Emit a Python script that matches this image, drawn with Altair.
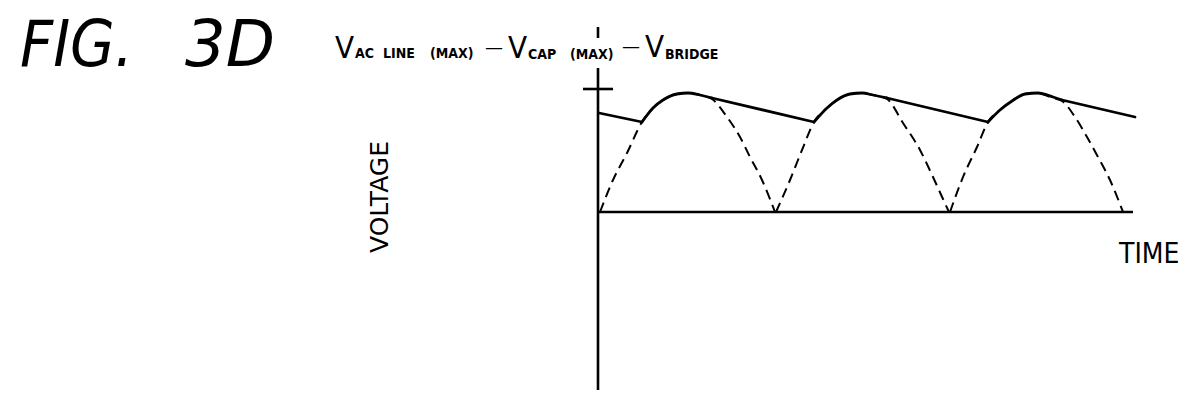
import altair as alt
import pandas as pd

# ---- coordinate system: t = time units (0 at voltage axis), v = voltage units (0 at time axis)
X_DOMAIN = [-590, 583]
Y_DOMAIN = [-178, 204]

# dashed rectified AC waveform (three half cycles)
arch_id = [1] * 15 + [2] * 15 + [3] * 15
arch_t = [2, 15, 29, 44, 55, 65, 79, 90, 102, 114, 129, 142, 152, 164, 177,
          178, 192, 204, 216, 229, 239, 252, 264, 275, 289, 305, 322, 335, 345, 351,
          352, 365, 379, 390, 402, 414, 427, 440, 455, 464, 477, 489, 500, 512, 525]
arch_v = [0, 32, 59, 90, 104, 112, 118, 119, 117, 113, 95, 75, 55, 32, 0,
          0, 32, 62, 90, 104, 112, 118, 119, 117, 113, 89, 62, 35, 13, 0,
          0, 35, 65, 90, 102, 111, 118, 119, 114, 111, 95, 75, 55, 32, 0]

# solid capacitor voltage (charge along the arch, then linear discharge)
cap_seg = [0, 0,
           1, 1, 1, 1, 1, 1, 1,
           2, 2,
           3, 3, 3, 3, 3, 3, 3,
           4, 4,
           5, 5, 5, 5, 5, 5, 5,
           6, 6]
cap_t = [1, 44,
         44, 55, 65, 79, 90, 102, 114,
         114, 216,
         216, 229, 239, 252, 264, 275, 289,
         289, 390,
         390, 402, 414, 427, 440, 455, 464,
         464, 537]
cap_v = [99, 90,
         90, 104, 112, 118, 119, 117, 114,
         114, 90,
         90, 104, 112, 118, 119, 117, 114,
         114, 90,
         90, 102, 111, 118, 119, 115, 112,
         112, 95]

# axis segments
axis_id = ["vtop", "vtop", "vmain", "vmain", "tick", "tick", "base", "base"]
axis_t = [0, 0, 0, 0, -15, 15, -1, 535]
axis_v = [185, 174, 144, -178, 123, 123, 0, 0]

# texts
fig_text = ["FIG."]
fig_t = [-578]
fig_v = [146]

num_text = ["3D"]
num_t = [-413]
num_v = [146]

big_v_text = ["V", "V", "V"]
big_v_t = [-263, -90, 47]
big_v_v = [154, 154, 155]

sub_text = ["AC", "CAP", "BRIDGE"]
sub_t = [-243, -70, 67]
sub_v = [154, 153, 153]

small_text = ["LINE", "(MAX)", "(MAX)"]
small_t = [-215, -168, -28]
small_v = [154, 154, 153]

dash_text = ["\u2014", "\u2014"]
dash_t = [-113, 24]
dash_v = [159, 160]

time_text = ["TIME"]
time_t = [521]
time_v = [-51]

volt_text = ["VOLTAGE"]
volt_t = [-210]
volt_v = [15]

xs = alt.Scale(domain=X_DOMAIN)
ys = alt.Scale(domain=Y_DOMAIN)


def enc(**kw):
    return dict(
        x=alt.X("t:Q", scale=xs, axis=None),
        y=alt.Y("v:Q", scale=ys, axis=None),
        **kw,
    )


arch_df = pd.DataFrame({"arch": arch_id, "t": arch_t, "v": arch_v})
cap_df = pd.DataFrame({"seg": cap_seg, "t": cap_t, "v": cap_v})
axis_df = pd.DataFrame({"part": axis_id, "t": axis_t, "v": axis_v})

arches = alt.Chart(arch_df).mark_line(
    color="black", strokeWidth=2, strokeDash=[10, 6], interpolate="monotone"
).encode(**enc(detail="arch:N"))

cap = alt.Chart(cap_df).mark_line(
    color="black", strokeWidth=2.8, interpolate="monotone", strokeCap="round"
).encode(**enc(detail="seg:N"))

axes = alt.Chart(axis_df).mark_line(
    color="black", strokeWidth=2.6
).encode(**enc(detail="part:N"))


def text_layer(texts, ts, vs, **mark):
    df = pd.DataFrame({"label": texts, "t": ts, "v": vs})
    return alt.Chart(df).mark_text(color="black", **mark).encode(**enc(text="label:N"))


COND = "DejaVu Sans Condensed, DejaVu Sans, sans-serif"
REG = "DejaVu Sans, sans-serif"

fig_layer = text_layer(fig_text, fig_t, fig_v, align="left", baseline="alphabetic",
                       fontSize=64, font=COND, fontStyle="italic")
num_layer = text_layer(num_text, num_t, num_v, align="left", baseline="alphabetic",
                       fontSize=64, font=REG, fontStyle="italic")
bigv_layer = text_layer(big_v_text, big_v_t, big_v_v, align="left", baseline="alphabetic",
                        fontSize=31, font=COND)
sub_layer = text_layer(sub_text, sub_t, sub_v, align="left", baseline="alphabetic",
                       fontSize=14, font=COND, fontWeight="bold")
small_layer = text_layer(small_text, small_t, small_v, align="left", baseline="alphabetic",
                         fontSize=14, font=COND, fontWeight="bold")
dash_layer = text_layer(dash_text, dash_t, dash_v, align="left", baseline="alphabetic",
                        fontSize=18, font=REG)
time_layer = text_layer(time_text, time_t, time_v, align="left", baseline="alphabetic",
                        fontSize=28, font=COND)
volt_layer = text_layer(volt_text, volt_t, volt_v, align="center", baseline="alphabetic",
                        fontSize=25, font=REG, angle=270)

chart = alt.layer(
    arches, cap, axes,
    fig_layer, num_layer, bigv_layer, sub_layer, small_layer, dash_layer,
    time_layer, volt_layer,
).properties(
    width=1173, height=382, padding=0, autosize="none"
).configure_view(stroke=None)

chart.save("out.html", embed_options={"renderer": "svg", "actions": False})
